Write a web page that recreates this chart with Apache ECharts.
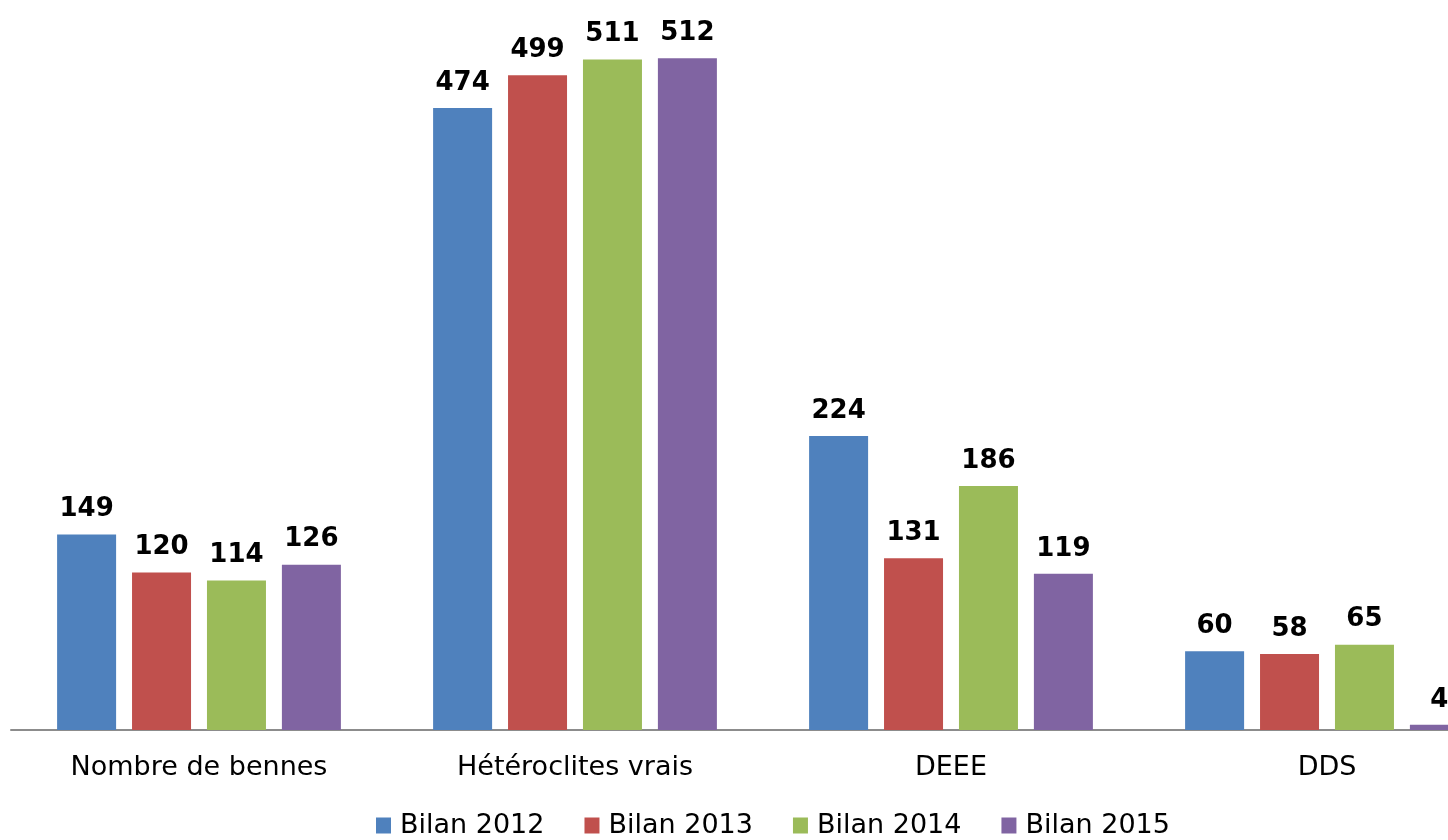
<!DOCTYPE html>
<html>
<head>
<meta charset="utf-8">
<script src="https://cdn.jsdelivr.net/npm/echarts@6/dist/echarts.min.js"></script>
<style>html,body{margin:0;padding:0;background:#fff;}#c{width:1448px;height:840px;}</style>
</head>
<body>
<div id="c"></div>
<script>
const categories = ['Nombre de bennes', 'Hétéroclites vrais', 'DEEE', 'DDS'];
const seriesNames = ['Bilan 2012', 'Bilan 2013', 'Bilan 2014', 'Bilan 2015'];
const bilan2012 = [149, 474, 224, 60];
const bilan2013 = [120, 499, 131, 58];
const bilan2014 = [114, 511, 186, 65];
const bilan2015 = [126, 512, 119, 4];
const colors = ['#4F81BD', '#C0504D', '#9BBB59', '#8064A2'];

const chart = echarts.init(document.getElementById('c'));
const allData = [bilan2012, bilan2013, bilan2014, bilan2015];
const font = '"DejaVu Sans", Verdana, sans-serif';
chart.setOption({
  animation: false,
  color: colors,
  grid: { left: 11, width: 1504, top: 8.4, height: 721.6, containLabel: false, outerBoundsMode: 'none' },
  legend: {
    top: 812, left: 376, padding: 0,
    itemWidth: 15, itemHeight: 16, itemGap: 40,
    icon: 'rect',
    textStyle: { fontFamily: font, fontSize: 27, color: '#000', padding: [0, 0, 0, 4] },
    data: seriesNames
  },
  xAxis: {
    type: 'category', data: categories,
    axisLine: { lineStyle: { color: '#8c8c8c', width: 2 } },
    axisTick: { show: false },
    axisLabel: { fontFamily: font, fontSize: 27, color: '#000', margin: 24 }
  },
  yAxis: { type: 'value', min: 0, max: 550, show: false, splitLine: { show: false } },
  series: seriesNames.map((n, i) => ({
    name: n, type: 'bar', data: allData[i],
    barWidth: 59, barGap: '27%',
    label: { show: true, position: 'top', distance: 12, fontFamily: font, fontSize: 26, fontWeight: 'bold', color: '#000' }
  }))
});
</script>
</body>
</html>
